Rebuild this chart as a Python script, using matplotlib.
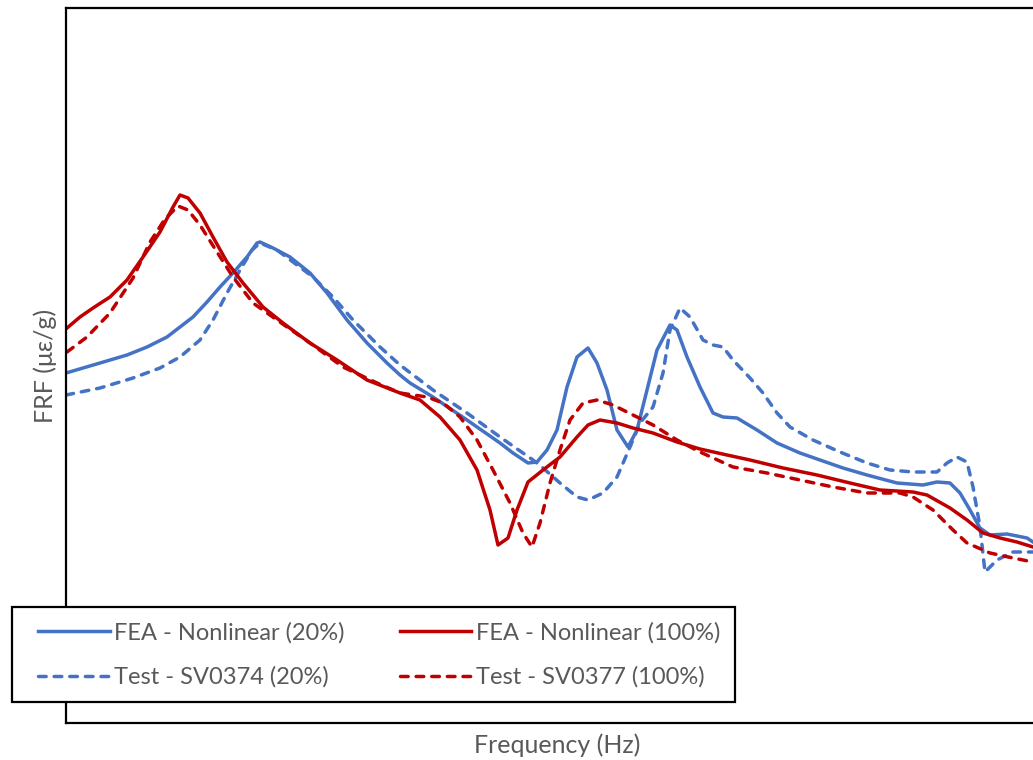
import matplotlib
matplotlib.use("Agg")
import matplotlib.pyplot as plt
from matplotlib.legend_handler import HandlerLine2D

plt.rcParams['font.family'] = ['Lato', 'DejaVu Sans']

# frequency / FRF values (arbitrary units, no ticks shown)
fea20_f = [0, 34, 61, 81, 101, 114, 127, 141, 154, 167, 181, 191, 194, 207, 224, 244, 261, 281, 301, 321,
           334, 344, 367, 401, 434, 447, 462, 471, 481, 491, 501, 511, 522, 531, 541, 551, 562, 571, 581, 591,
           604, 611, 621, 634, 647, 657, 671, 691, 711, 734, 754, 777, 801, 831, 857, 871, 884, 894, 904, 914,
           924, 941, 961, 967]
fea20_v = [350, 360, 368, 376, 386, 396, 406, 421, 436, 450, 466, 480, 481, 475, 466, 450, 430, 403, 380, 360,
           348, 340, 326, 303, 280, 270, 260, 261, 273, 293, 336, 366, 375, 360, 333, 293, 276, 293, 333, 373,
           398, 393, 366, 336, 310, 306, 305, 293, 280, 270, 263, 255, 248, 240, 238, 241, 240, 230, 213, 195,
           188, 189, 185, 181]

test20_f = [0, 34, 67, 94, 114, 134, 147, 161, 174, 186, 194, 211, 227, 247, 267, 287, 314, 334, 367, 401,
            434, 467, 477, 494, 511, 522, 537, 551, 564, 574, 587, 597, 604, 614, 624, 637, 647, 657, 667, 684,
            697, 711, 724, 747, 774, 801, 824, 847, 871, 881, 891, 901, 907, 914, 919, 931, 947, 967]
test20_v = [328, 335, 345, 355, 366, 383, 403, 430, 453, 473, 480, 473, 461, 446, 426, 403, 376, 358, 333, 310,
            286, 263, 255, 240, 226, 223, 230, 246, 276, 300, 316, 350, 393, 415, 406, 383, 378, 376, 363, 345,
            330, 310, 296, 283, 271, 260, 253, 251, 251, 260, 266, 261, 236, 196, 151, 163, 171, 171]

fea100_f = [1, 14, 27, 44, 61, 77, 94, 107, 114, 122, 134, 147, 161, 177, 197, 217, 244, 271, 301, 334,
            354, 374, 394, 411, 424, 432, 442, 451, 462, 477, 494, 511, 522, 534, 551, 567, 587, 611, 634, 661,
            684, 717, 751, 784, 814, 847, 861, 884, 901, 917, 934, 951, 967]
fea100_v = [395, 406, 415, 426, 443, 466, 491, 516, 528, 525, 510, 486, 461, 440, 416, 400, 380, 363, 343, 330,
            323, 306, 283, 253, 213, 178, 185, 213, 241, 253, 266, 286, 298, 303, 300, 295, 290, 281, 274, 268,
            263, 255, 248, 240, 233, 231, 228, 215, 203, 190, 185, 181, 176]

test100_f = [1, 21, 44, 67, 84, 99, 112, 122, 134, 151, 167, 187, 211, 244, 277, 311, 334, 361, 377, 394,
             411, 427, 444, 457, 466, 474, 484, 494, 504, 517, 531, 547, 567, 587, 611, 634, 667, 701, 734, 767,
             801, 834, 847, 867, 887, 901, 924, 947, 967]
test100_v = [371, 386, 410, 445, 481, 504, 517, 513, 498, 471, 446, 420, 403, 380, 356, 340, 330, 326, 320, 306,
             283, 253, 220, 190, 176, 200, 240, 273, 303, 320, 323, 318, 308, 298, 283, 271, 256, 250, 243, 236,
             230, 230, 226, 213, 193, 180, 170, 165, 161]

blue = '#4472C4'
red = '#C00000'
grey = '#595959'

fig = plt.figure(figsize=(10.33, 7.6), dpi=100)
ax = fig.add_axes([66 / 1033, 1 - 723 / 760, 1 - 66 / 1033, 715 / 760])

lw = 2.5
dash = dict(linestyle=(0, (2.2, 2.3)), dash_capstyle='round')
ax.plot(fea20_f, fea20_v, color=blue, lw=lw, label='FEA - Nonlinear (20%)')
ax.plot(test20_f, test20_v, color=blue, lw=lw, label='Test - SV0374 (20%)', **dash)
ax.plot(fea100_f, fea100_v, color=red, lw=lw, label='FEA - Nonlinear (100%)')
ax.plot(test100_f, test100_v, color=red, lw=lw, label='Test - SV0377 (100%)', **dash)

ax.set_xlim(0, 967)
ax.set_ylim(0, 715)
ax.set_xticks([])
ax.set_yticks([])
ax.spines['right'].set_visible(False)
for s in ['left', 'top', 'bottom']:
    ax.spines[s].set_linewidth(1.6)
    ax.spines[s].set_color('black')

fig.text(557 / 1033, 1 - 745 / 760, 'Frequency (Hz)', ha='center', va='center', fontsize=18, color=grey)
fig.text(45 / 1033, 1 - 366 / 760, 'FRF (\u03bc\u03b5/g)', ha='center', va='center', rotation=90,
         fontsize=18, color=grey)

h, l = ax.get_legend_handles_labels()
hmap = {hh: HandlerLine2D(numpoints=2, marker_pad=0.48) for hh in h}
leg = fig.legend(h, l, ncol=2, loc='upper left', handler_map=hmap,
                 bbox_to_anchor=(12 / 1033, 1 - 607 / 760), bbox_transform=fig.transFigure,
                 borderaxespad=0, fontsize=17, handlelength=4.0, handletextpad=-0.3,
                 columnspacing=1.85, labelspacing=0.98, borderpad=0.62,
                 fancybox=False, framealpha=1, edgecolor='black', labelcolor=grey)
leg.get_frame().set_linewidth(1.6)

fig.savefig('out.png', dpi=100)
